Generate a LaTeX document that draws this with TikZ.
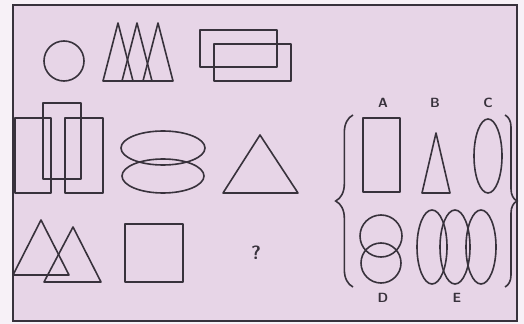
\documentclass[tikz,border=0pt]{standalone}
\usepackage{tikz}
\usetikzlibrary{decorations.pathreplacing}
\definecolor{puzzlebg}{RGB}{231,213,231}
\definecolor{pagebg}{RGB}{247,241,247}
\definecolor{inkgray}{RGB}{56,50,60}

\tikzset{
  figline/.style={draw=inkgray, line width=1.2pt, line join=round},
  bracket/.style={draw=inkgray, line width=1.2pt, decorate,
                  decoration={brace, amplitude=#1}},
  optlabel/.style={font=\sffamily\bfseries\normalsize, text=inkgray, inner sep=0pt},
}

\begin{document}
\begin{tikzpicture}[x=0.75pt, y=-0.75pt]
    \fill[pagebg] (0,0) rectangle (524,324);
    \draw[line width=1.6pt, draw=inkgray, fill=puzzlebg] (13,5) rectangle (517,321);
    % first row
    \draw[figline] (64,61) circle (20);
    \foreach \ax in {118,137,158}
      \draw[figline] (\ax,23) -- (\ax+15,81) -- (\ax-15,81) -- cycle;
    \draw[figline] (200,30) rectangle (277,67);
    \draw[figline] (214,44) rectangle (291,81);
    % second row
    \draw[figline] (15,118) rectangle (51,193);
    \draw[figline] (43,103) rectangle (81,179);
    \draw[figline] (65,118) rectangle (103,193);
    \draw[figline] (163,148) ellipse [x radius=42, y radius=17];
    \draw[figline] (163,176) ellipse [x radius=41, y radius=17];
    \draw[figline] (260,135) -- (298,193) -- (223,193) -- cycle;
    % third row
    \draw[figline] (41,220) -- (69,275) -- (13,275) -- cycle;
    \draw[figline] (73,227) -- (101,282) -- (44,282) -- cycle;
    \draw[figline] (125,224) rectangle (183,282);
    \node[font=\sffamily\bfseries\Large, text=inkgray] (qmark) at (256,253) {?};
    % answer choices
    \draw[bracket=13pt] (353,287) -- (353,115);
    \draw[bracket=9pt] (505,115) -- (505,287);
    \node[optlabel] (labA) at (383,103) {A};
    \node[optlabel] (labB) at (435,103) {B};
    \node[optlabel] (labC) at (488,103) {C};
    \draw[figline] (363,118) rectangle (400,192);
    \draw[figline] (436,133) -- (450,193) -- (422,193) -- cycle;
    \draw[figline] (488,156) ellipse [x radius=14, y radius=37];
    \draw[figline] (381,236) circle (21);
    \draw[figline] (381,263) circle (20);
    \foreach \ex in {432,455,481}
      \draw[figline] (\ex,247) ellipse [x radius=15, y radius=37];
    \node[optlabel] (labD) at (383,298) {D};
    \node[optlabel] (labE) at (457,298) {E};
\end{tikzpicture}
\end{document}
